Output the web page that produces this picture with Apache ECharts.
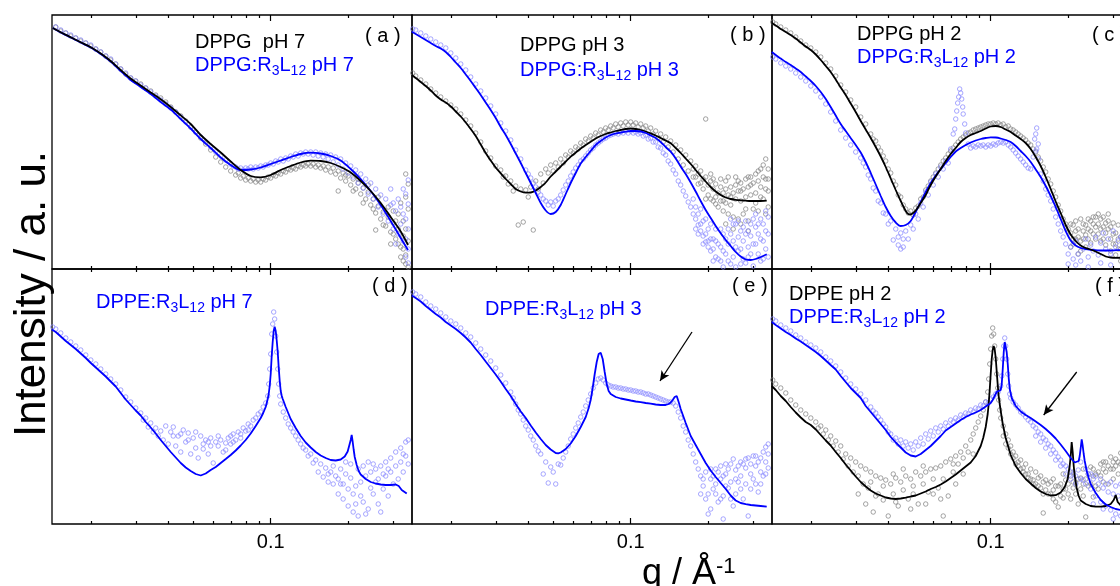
<!DOCTYPE html>
<html><head><meta charset="utf-8">
<script src="https://cdn.jsdelivr.net/npm/echarts@6/dist/echarts.min.js"></script>
<style>html,body{margin:0;padding:0;background:#fff}#c{width:1120px;height:586px}</style>
</head><body><div id="c"></div>
<script>
// ---------- axis / tick data ----------
const qMin = 0.01409, qMax = 0.3547;
const minorTicks = [0.02,0.03,0.04,0.05,0.06,0.07,0.08,0.09,0.2,0.3];
const majorTicks = [0.1];
const tickLabels = ['0.1'];
const panelTags = ['( a )','( b )','( c )','( d )','( e )','( f )'];
const blackLegend = ['DPPG  pH 7','DPPG pH 3','DPPG pH 2','','','DPPE pH 2'];
const blueLegend = [['DPPG:R','3','L','12',' pH 7'],['DPPG:R','3','L','12',' pH 3'],['DPPG:R','3','L','12',' pH 2'],
                    ['DPPE:R','3','L','12',' pH 7'],['DPPE:R','3','L','12',' pH 3'],['DPPE:R','3','L','12',' pH 2']];
const arrowE = [[0.1732,192],[0.130,143]];
const arrowF = [[0.2161,152],[0.1608,109]];

// ---------- panel (a) DPPG pH 7 ----------
const aBlackFit = [[0.0142,241],[0.01524,236.7],[0.01667,231.8],[0.01823,226.7],[0.01995,221.8],[0.02181,215.5],[0.02384,208],[0.02608,199],[0.02852,190.5],[0.0312,183.5],[0.03413,176.6],[0.03733,169.7],[0.04083,162],[0.04466,153.6],[0.04883,145],[0.05341,134],[0.05842,125],[0.0639,116.5],[0.06987,107.5],[0.07642,99],[0.0836,93],[0.09143,91.7],[0.1,94],[0.1094,99],[0.1196,103],[0.1308,106.5],[0.1431,108.3],[0.1565,108],[0.1712,106],[0.1872,102],[0.2048,96.5],[0.224,88],[0.245,78],[0.268,66],[0.2931,52],[0.3206,37.5],[0.3423,24]];
const aBlueFit = [[0.0142,241],[0.01524,236.5],[0.01667,231.5],[0.01823,226.5],[0.01995,221.5],[0.02181,215],[0.02384,207.5],[0.02608,198],[0.02852,189],[0.0312,182],[0.03413,175],[0.03733,167],[0.04083,159.5],[0.04466,150],[0.04883,140.5],[0.05341,130],[0.05842,121],[0.0639,111.5],[0.06987,104],[0.07642,99],[0.0836,99.5],[0.09143,101.5],[0.1,105],[0.1094,108.5],[0.1196,112],[0.1308,115],[0.1431,116.3],[0.1565,115.5],[0.1712,113],[0.1872,108.5],[0.2048,100],[0.224,90],[0.245,78],[0.268,64],[0.2931,48],[0.3206,31],[0.3423,19]];
const aBlackPts = [[0.01457,242],[0.01524,238],[0.01594,236],[0.01667,233],[0.01743,231],[0.01823,228],[0.01907,226],[0.01995,223],[0.02086,220],[0.02181,217],[0.02281,213],[0.02384,209],[0.02494,205],[0.02608,200],[0.02727,195],[0.02852,191],[0.02983,188],[0.0312,185],[0.03263,181],[0.03413,178],[0.03569,174],[0.03733,171],[0.03904,167],[0.04083,162],[0.0427,157],[0.04466,153],[0.0467,148],[0.04883,142],[0.05107,137],[0.05341,131],[0.05586,125],[0.05842,119],[0.0611,112],[0.0639,107],[0.06683,102],[0.06987,98],[0.07308,94],[0.07473,96],[0.07642,91],[0.07815,93],[0.07992,89],[0.08173,91],[0.0836,88],[0.08549,90],[0.08743,87],[0.08941,89],[0.09143,87],[0.09351,90],[0.09562,89],[0.09779,92],[0.1,91],[0.1023,94],[0.1046,93],[0.1069,96],[0.1094,95],[0.1119,98],[0.1144,97],[0.117,100],[0.1196,99],[0.1223,101],[0.1251,100],[0.1279,103],[0.1308,102],[0.1338,104],[0.1368,103],[0.1399,105],[0.1431,103],[0.1463,105],[0.1497,102],[0.1531,104],[0.1565,101],[0.1601,103],[0.1637,99],[0.1674,102],[0.1712,97],[0.1751,101],[0.179,95],[0.1831,98],[0.1872,91],[0.1914,96],[0.1958,88],[0.2002,93],[0.2048,84],[0.2094,90],[0.2142,80],[0.219,86],[0.224,75],[0.2291,81],[0.2343,70],[0.2396,77],[0.245,64],[0.2506,70],[0.2562,56],[0.2621,63],[0.268,50],[0.2741,57],[0.2803,43],[0.2866,52],[0.2931,37],[0.2998,46],[0.3065,30],[0.3135,40],[0.3206,22],[0.3279,33],[0.3353,14],[0.3429,28],
[0.1831,78],[0.1958,94],[0.2094,78],[0.219,90],[0.2291,66],[0.2396,84],[0.2506,60],[0.2621,72],[0.2741,44],[0.2866,62],[0.2998,35],[0.3135,55],[0.3279,48],[0.3429,60],[0.3353,72],[0.3429,85],[0.3279,20],[0.3353,5],[0.3206,12],[0.3429,2],[0.3135,25],[0.3065,48],[0.2998,58],[0.2931,25],[0.3206,66],[0.3353,40],[0.3279,8],[0.3353,95],[0.2562,39]];
const aBluePts = [[0.01457,242],[0.01524,239],[0.01594,236],[0.01667,234],[0.01743,231],[0.01823,229],[0.01907,226],[0.01995,224],[0.02086,220],[0.02181,217],[0.02281,213],[0.02384,210],[0.02494,205],[0.02608,200],[0.02727,196],[0.02852,191],[0.02983,188],[0.0312,184],[0.03263,181],[0.03413,177],[0.03569,173],[0.03733,169],[0.03904,165],[0.04083,161],[0.0427,157],[0.04466,152],[0.0467,147],[0.04883,142],[0.05107,137],[0.05341,132],[0.05586,127],[0.05842,122],[0.0611,117],[0.0639,113],[0.06683,109],[0.06987,105],[0.07146,103],[0.07308,102],[0.07473,100],[0.07642,101],[0.07815,99],[0.07992,101],[0.08173,100],[0.0836,102],[0.08549,100],[0.08743,102],[0.08941,101],[0.09143,103],[0.09351,102],[0.09562,104],[0.09779,104],[0.1,106],[0.1023,105],[0.1046,108],[0.1069,107],[0.1094,110],[0.1119,108],[0.1144,111],[0.117,110],[0.1196,113],[0.1223,112],[0.1251,115],[0.1279,113],[0.1308,116],[0.1338,115],[0.1368,117],[0.1399,115],[0.1431,117],[0.1463,114],[0.1497,117],[0.1531,113],[0.1565,116],[0.1601,112],[0.1637,115],[0.1674,110],[0.1712,114],[0.1751,107],[0.179,112],[0.1831,104],[0.1872,110],[0.1914,100],[0.1958,106],[0.2002,96],[0.2048,103],[0.2094,92],[0.2142,99],[0.219,86],[0.224,95],[0.2291,81],[0.2343,90],[0.2396,75],[0.245,86],[0.2506,70],[0.2562,80],[0.2621,62],[0.268,74],[0.2741,55],[0.2803,70],[0.2866,48],[0.2931,64],[0.2998,40],[0.3065,58],[0.3135,35],[0.3206,62],[0.3279,28],[0.3353,75],[0.3429,89],
[0.3353,50],[0.3429,40],[0.3279,80],[0.3206,45],[0.3135,70],[0.3065,25],[0.2998,66],[0.3429,65],[0.3353,30],[0.2931,80],[0.3279,55],[0.3429,20],[0.3353,12],[0.3429,6]];

// ---------- panel (b) DPPG pH 3 ----------
const bBlackFit = [[0.01406,194],[0.01457,191],[0.01524,187],[0.01594,183],[0.01667,178.5],[0.01743,173.5],[0.01823,169.5],[0.01907,166.5],[0.01995,162.5],[0.02086,157.5],[0.02181,152.5],[0.02281,146.5],[0.02384,140],[0.02494,133],[0.02608,124.5],[0.02727,116],[0.02852,108.5],[0.02983,101.5],[0.0312,95.7],[0.03263,90],[0.03413,85],[0.03569,80],[0.03733,77.5],[0.03904,76.3],[0.04083,76.5],[0.0427,78.5],[0.04466,82],[0.0467,86.5],[0.04883,92.5],[0.05107,97.5],[0.05341,102.5],[0.05586,107.5],[0.05842,112.3],[0.0611,116.5],[0.0639,120.5],[0.06683,124],[0.06987,127.3],[0.07308,130.5],[0.07642,133],[0.07992,135],[0.0836,136.5],[0.08743,138],[0.09143,139],[0.09562,140],[0.1,140.5],[0.1046,140],[0.1094,139],[0.1144,137.5],[0.1196,135.7],[0.1251,133.5],[0.1308,131],[0.1368,128.5],[0.1431,125.7],[0.1497,121],[0.1565,116],[0.1637,110.5],[0.1712,105],[0.179,99],[0.1872,93],[0.1958,87.5],[0.2048,82],[0.2142,77.5],[0.224,74],[0.2343,71.5],[0.245,70],[0.2562,69.2],[0.268,68.7],[0.2803,68.3],[0.2931,68],[0.3065,68],[0.3206,68],[0.3383,68.3]];
const bBlueFit = [[0.01406,237.3],[0.01457,235],[0.01524,232],[0.01594,229],[0.01667,226],[0.01743,223],[0.01823,220.5],[0.01907,217],[0.01995,212],[0.02086,206.5],[0.02181,201],[0.02281,194.5],[0.02384,188],[0.02494,181],[0.02608,174],[0.02727,166.5],[0.02852,159],[0.02983,151],[0.0312,142],[0.03263,134],[0.03413,125],[0.03569,115.5],[0.03733,106],[0.03904,96],[0.04083,86],[0.0427,76],[0.04466,66],[0.0467,58.5],[0.04883,55],[0.05107,57],[0.05341,64],[0.05586,75],[0.05842,86],[0.0611,96],[0.0639,105.5],[0.06683,112],[0.06987,118],[0.07308,124],[0.07642,128],[0.07992,131.5],[0.0836,134],[0.08743,135.5],[0.09143,136.5],[0.09562,137.3],[0.1,138],[0.1046,138],[0.1094,137.5],[0.1144,136],[0.1196,133.5],[0.1251,131],[0.1308,127],[0.1368,122],[0.1431,117.3],[0.1497,110.5],[0.1565,102.5],[0.1637,95],[0.1712,86.5],[0.179,77.5],[0.1872,68],[0.1958,59],[0.2048,51],[0.2142,43],[0.224,35.7],[0.2343,29],[0.245,23],[0.2562,17],[0.268,12.5],[0.2803,9.5],[0.2931,9],[0.3065,10],[0.3206,12],[0.3383,14.7]];
const bBlackPts = [[0.01418,196],[0.01457,193],[0.01524,189],[0.01594,185],[0.01667,180],[0.01743,176],[0.01823,172],[0.01907,168],[0.01995,164],[0.02086,160],[0.02181,155],[0.02281,149],[0.02384,143],[0.02494,136],[0.02608,127],[0.02727,118],[0.02852,111],[0.02983,103],[0.0312,99],[0.03191,92],[0.03263,93],[0.03337,85],[0.03413,88],[0.0349,78],[0.03569,83],[0.0365,44],[0.03733,80],[0.03818,47],[0.03904,79],[0.03993,72],[0.04083,82],[0.04176,39],[0.0427,88],[0.04367,80],[0.04466,95],[0.04567,86],[0.0467,100],[0.04776,96],[0.04883,104],[0.04994,98],[0.05107,106],[0.05223,102],[0.05341,110],[0.05462,106],[0.05586,114],[0.05713,112],[0.05842,118],[0.05975,116],[0.0611,122],[0.06249,120],[0.0639,126],[0.06535,124],[0.06683,130],[0.06834,128],[0.06987,133],[0.07146,131],[0.07308,136],[0.07473,134],[0.07642,139],[0.07815,137],[0.07992,141],[0.08173,139],[0.0836,143],[0.08549,141],[0.08743,145],[0.08941,142],[0.09143,146],[0.09351,143],[0.09562,147],[0.09779,144],[0.1,147],[0.1023,144],[0.1046,146],[0.1069,142],[0.1094,145],[0.1119,141],[0.1144,143],[0.117,138],[0.1196,141],[0.1223,135],[0.1251,138],[0.1279,131],[0.1308,135],[0.1338,127],[0.1368,132],[0.1399,122],[0.1431,128],[0.1463,117],[0.1497,124],[0.1531,110],[0.1565,119],[0.1601,104],[0.1637,114],[0.1674,98],[0.1712,108],[0.1751,92],[0.179,103],[0.1831,85],[0.1872,98],[0.1914,80],[0.1958,150],[0.1958,92],[0.2002,74],[0.2048,88],[0.2094,68],[0.2142,85],[0.219,62],[0.224,82],[0.2291,58],[0.2343,80],[0.2396,55],[0.245,82],[0.2506,52],[0.2562,84],[0.2621,50],[0.268,86],[0.2741,55],[0.2803,90],[0.2866,48],[0.2931,92],[0.2998,60],[0.3065,95],[0.3135,58],[0.3206,100],[0.3279,70],[0.3353,110],[0.3429,78],
[0.2048,70],[0.2142,72],[0.224,68],[0.2343,66],[0.245,64],[0.2562,70],[0.268,68],[0.2803,72],[0.2931,74],[0.3065,76],[0.3206,82],[0.3353,90],[0.3429,100],[0.2094,80],[0.219,76],[0.2291,76],[0.2396,74],[0.2506,76],[0.2621,78],[0.2741,80],[0.2866,82],[0.2998,86],[0.3135,88],[0.3279,92],[0.3429,62],[0.3353,55],[0.2343,45],[0.2506,40],[0.268,45],[0.2866,38],[0.1958,70],
[0.1751,100],[0.179,92],[0.1831,95],[0.1872,86],[0.1914,90],[0.2002,84],[0.2048,95],[0.2142,65],[0.224,90],[0.2343,88],[0.245,72],[0.2562,92],[0.268,78],[0.2803,60],[0.2931,84],[0.3065,66],[0.3206,72],[0.3353,80],[0.3429,90],[0.2396,92],[0.2621,88],[0.2866,92],[0.3135,98],[0.3279,104],[0.2094,90],[0.2291,68]];
const bBluePts = [[0.01418,240],[0.01457,239],[0.01524,236],[0.01594,233],[0.01667,230],[0.01743,227],[0.01823,224],[0.01907,221],[0.01995,216],[0.02086,211],[0.02181,205],[0.02281,199],[0.02384,192],[0.02494,185],[0.02608,178],[0.02727,171],[0.02852,163],[0.02983,155],[0.0312,146],[0.03263,138],[0.03413,129],[0.03569,119],[0.03733,110],[0.03904,99],[0.03993,95],[0.04083,91],[0.04176,86],[0.0427,82],[0.04367,77],[0.04466,74],[0.04567,70],[0.0467,68],[0.04776,64],[0.04883,67],[0.04994,63],[0.05107,68],[0.05223,70],[0.05341,74],[0.05462,79],[0.05586,84],[0.05713,88],[0.05842,93],[0.05975,97],[0.0611,101],[0.06249,104],[0.0639,108],[0.06535,110],[0.06683,113],[0.06834,116],[0.06987,119],[0.07146,121],[0.07308,124],[0.07473,126],[0.07642,128],[0.07815,130],[0.07992,131],[0.08173,133],[0.0836,134],[0.08549,135],[0.08743,136],[0.08941,135],[0.09143,137],[0.09351,136],[0.09562,138],[0.09779,136],[0.1,138],[0.1023,136],[0.1046,137],[0.1069,135],[0.1094,136],[0.1119,133],[0.1144,134],[0.117,130],[0.1196,131],[0.1223,127],[0.1251,127],[0.1279,122],[0.1308,121],[0.1338,116],[0.1368,114],[0.1399,108],[0.1431,105],[0.1463,99],[0.1497,95],[0.1531,88],[0.1565,84],[0.1601,78],[0.1637,73],[0.1674,67],[0.1712,62],[0.1751,55],[0.179,50],[0.1831,44],[0.1872,38],[0.1914,33],[0.1958,27],[0.2002,22],[0.2048,18],[0.2094,30],[0.2142,12],[0.219,25],[0.224,8],[0.2291,35],[0.2343,15],[0.2396,40],[0.245,5],[0.2506,28],[0.2562,45],[0.2621,18],[0.268,38],[0.2741,10],[0.2803,48],[0.2866,22],[0.2931,33],[0.2998,3],[0.3065,42],[0.3135,15],[0.3206,50],[0.3279,28],[0.3353,38],[0.3429,12],
[0.2094,8],[0.2142,40],[0.224,22],[0.2291,2],[0.2396,25],[0.245,50],[0.2506,12],[0.2621,32],[0.268,20],[0.2741,42],[0.2803,6],[0.2866,38],[0.2931,15],[0.2998,50],[0.3065,25],[0.3135,35],[0.3206,8],[0.3279,45],[0.3353,20],[0.3429,52],[0.2562,2],[0.2002,40],[0.2048,45],[0.1958,50],[0.1914,48],[0.1872,60],[0.1831,55],[0.1751,70],[0.179,62],
[0.2048,30],[0.2094,20],[0.2142,28],[0.219,10],[0.224,40],[0.2291,18],[0.2343,30],[0.2396,8],[0.245,35],[0.2506,45],[0.2562,22],[0.2621,48],[0.268,5],[0.2741,28],[0.2803,35],[0.2866,12],[0.2931,45],[0.2998,25],[0.3065,55],[0.3135,45],[0.3206,30],[0.3279,10],[0.3353,58],[0.3429,35],[0.2002,28],[0.1958,35],[0.1914,25],[0.1872,45],[0.1831,35],[0.179,40]];

// ---------- panel (c) DPPG pH 2 ----------
const cBlackFit = [[0.01406,246],[0.01457,243.5],[0.01524,240],[0.01594,237],[0.01667,234],[0.01743,230.5],[0.01823,226.5],[0.01907,222.5],[0.01995,219],[0.02086,214.5],[0.02181,209],[0.02281,203],[0.02384,197],[0.02494,189.5],[0.02608,181.5],[0.02727,174],[0.02852,165.5],[0.02983,157],[0.0312,148],[0.03263,139.5],[0.03413,131],[0.03569,122],[0.03733,112.5],[0.03904,102],[0.04083,90.5],[0.0427,79],[0.04466,68],[0.0467,58],[0.04776,55],[0.04883,54.5],[0.05107,58.5],[0.05341,66],[0.05586,74],[0.05842,84],[0.0611,92.5],[0.0639,100],[0.06683,108],[0.06987,115],[0.07308,121],[0.07642,127],[0.07992,131],[0.0836,134],[0.08743,136],[0.09143,138],[0.09562,140.5],[0.1,142.5],[0.1046,143],[0.1094,142],[0.1144,139.5],[0.1196,137],[0.1251,133.5],[0.1308,130],[0.1368,126],[0.1431,120],[0.1497,112],[0.1565,103],[0.1637,92],[0.1712,80],[0.179,67.5],[0.1872,56],[0.1958,44],[0.2048,34.5],[0.2142,28],[0.224,23.5],[0.2343,21],[0.245,19.5],[0.2562,17.5],[0.268,15],[0.2803,12.5],[0.2931,11.5],[0.3065,11.2],[0.3206,11.3],[0.3353,12],[0.3506,13]];
const cBlueFit = [[0.01406,217],[0.01457,214],[0.01524,210.5],[0.01594,207],[0.01667,204],[0.01743,200.5],[0.01823,197],[0.01907,192.5],[0.01995,188],[0.02086,183],[0.02181,177],[0.02281,170],[0.02384,162],[0.02494,153.5],[0.02608,145],[0.02727,138],[0.02852,131],[0.02983,124],[0.0312,116.5],[0.03263,107],[0.03413,96],[0.03569,84.5],[0.03733,73],[0.03904,62],[0.04083,53],[0.0427,46.5],[0.04466,43],[0.0467,44],[0.04883,48],[0.05107,57],[0.05341,67],[0.05586,77],[0.05842,86],[0.0611,93.5],[0.0639,100],[0.06683,106],[0.06987,112],[0.07308,117.5],[0.07642,121],[0.07992,124],[0.0836,126.5],[0.08743,128.5],[0.09143,130],[0.09562,131],[0.1,131.7],[0.1046,131.5],[0.1094,130.5],[0.1144,129],[0.1196,127],[0.1251,123],[0.1308,118],[0.1368,113],[0.1431,107],[0.1497,99.5],[0.1565,92],[0.1637,83],[0.1712,73],[0.179,62],[0.1872,50],[0.1958,38],[0.2048,28.5],[0.2142,23.5],[0.224,21],[0.2343,19.8],[0.245,19.2],[0.268,18.5],[0.2931,18.5],[0.3206,19],[0.3506,19.5]];
const cBlackPts = [[0.01418,247],[0.01457,245],[0.01524,242],[0.01594,239],[0.01667,236],[0.01743,232],[0.01823,228],[0.01907,224],[0.01995,221],[0.02086,217],[0.02181,212],[0.02281,206],[0.02384,200],[0.02494,193],[0.02608,184],[0.02727,177],[0.02852,169],[0.02983,162],[0.0312,152],[0.03263,145],[0.03413,135],[0.0349,130],[0.03569,128],[0.0365,122],[0.03733,118],[0.03818,113],[0.03904,108],[0.03993,100],[0.04083,96],[0.04176,88],[0.0427,84],[0.04367,74],[0.04466,72],[0.04567,64],[0.0467,60],[0.04776,56],[0.04883,58],[0.04994,54],[0.05107,61],[0.05223,63],[0.05341,70],[0.05462,72],[0.05586,79],[0.05713,83],[0.05842,88],[0.05975,92],[0.0611,96],[0.06249,100],[0.0639,104],[0.06535,108],[0.06683,111],[0.06834,115],[0.06987,118],[0.07146,121],[0.07308,124],[0.07473,127],[0.07642,130],[0.07815,132],[0.07992,134],[0.08173,136],[0.0836,137],[0.08549,139],[0.08743,140],[0.08941,141],[0.09143,142],[0.09351,143],[0.09562,144],[0.09779,145],[0.1,145],[0.1023,146],[0.1046,145],[0.1069,146],[0.1094,144],[0.1119,145],[0.1144,142],[0.117,143],[0.1196,140],[0.1223,139],[0.1251,137],[0.1279,135],[0.1308,133],[0.1338,131],[0.1368,129],[0.1399,126],[0.1431,124],[0.1463,120],[0.1497,117],[0.1531,112],[0.1565,108],[0.1601,102],[0.1637,97],[0.1674,90],[0.1712,85],[0.1751,78],[0.179,72],[0.1831,64],[0.1872,58],[0.1914,50],[0.1958,45],[0.2002,40],[0.2048,36],[0.2094,44],[0.2142,30],[0.219,40],[0.224,28],[0.2291,45],[0.2343,34],[0.2396,50],[0.245,38],[0.2506,52],[0.2562,42],[0.2621,55],[0.268,40],[0.2741,52],[0.2803,36],[0.2866,48],[0.2931,30],[0.2998,46],[0.3065,25],[0.3135,44],[0.3206,20],[0.3279,40],[0.3353,28],[0.3429,46],
[0.2048,22],[0.2142,48],[0.224,18],[0.2343,22],[0.245,26],[0.2562,30],[0.268,28],[0.2803,24],[0.2931,18],[0.3065,14],[0.3206,8],[0.3353,10],[0.2291,30],[0.2396,40],[0.2506,45],[0.2621,35],[0.2741,42],[0.2866,55],[0.2998,35],[0.3135,30],[0.3279,52],[0.3429,30],[0.219,15],[0.2094,30],
[0.2048,45],[0.2142,38],[0.224,50],[0.2343,44],[0.245,48],[0.2562,52],[0.268,50],[0.2803,46],[0.2931,42],[0.3065,36],[0.3206,32],[0.3353,38],[0.3429,40],[0.2094,25],[0.219,32],[0.2291,38],[0.2396,30],[0.2506,35],[0.2621,45],[0.2741,30],[0.2866,40],[0.2998,25],[0.3135,20],[0.3279,30]];
const cBluePts = [[0.01418,212],[0.01457,210],[0.01524,206],[0.01594,203],[0.01667,200],[0.01743,196],[0.01823,192],[0.01907,188],[0.01995,183],[0.02086,178],[0.02181,172],[0.02281,165],[0.02384,157],[0.02494,148],[0.02608,139],[0.02727,131],[0.02852,124],[0.02983,117],[0.0312,111],[0.03191,106],[0.03263,102],[0.03337,94],[0.03413,90],[0.0349,81],[0.03569,78],[0.0365,68],[0.03733,66],[0.03818,56],[0.03904,55],[0.03993,45],[0.04083,48],[0.04176,29],[0.0427,40],[0.04367,24],[0.04466,36],[0.04567,22],[0.0467,38],[0.04776,30],[0.04883,44],[0.04994,40],[0.05107,55],[0.05223,50],[0.05341,66],[0.05462,62],[0.05586,77],[0.05713,74],[0.05842,87],[0.05975,84],[0.0611,95],[0.06249,92],[0.0639,102],[0.06535,100],[0.06683,108],[0.06834,106],[0.06987,120],[0.07146,135],[0.07308,150],[0.07437,166],[0.07573,180],[0.07711,170],[0.07815,155],[0.07992,136],[0.08173,125],[0.0836,121],[0.08549,123],[0.08743,122],[0.08941,124],[0.09143,123],[0.09351,124],[0.09562,122],[0.09779,124],[0.1,123],[0.1023,125],[0.1046,124],[0.1069,126],[0.1094,127],[0.1119,126],[0.1144,127],[0.117,124],[0.1196,122],[0.1223,119],[0.1251,116],[0.1279,113],[0.1308,110],[0.1338,107],[0.1368,104],[0.1399,101],[0.1431,100],[0.1463,112],[0.1497,135],[0.151,141],[0.1531,125],[0.1565,95],[0.1601,88],[0.1637,80],[0.1674,74],[0.1712,68],[0.1751,60],[0.179,52],[0.1831,45],[0.1872,38],[0.1914,32],[0.1958,25],[0.2002,15],[0.2048,22],[0.2094,10],[0.2142,28],[0.219,15],[0.224,8],[0.2291,20],[0.2343,30],[0.2396,12],[0.245,24],[0.2506,18],[0.2562,32],[0.2621,14],[0.268,26],[0.2741,36],[0.2803,20],[0.2866,30],[0.2931,15],[0.2998,38],[0.3065,22],[0.3135,28],[0.3206,32],[0.3279,18],[0.3353,40],[0.3429,25],
[0.07244,140],[0.07374,158],[0.07504,172],[0.07642,176],[0.07781,162],[0.07921,145],[0.1483,130],[0.151,120],[0.1537,110],[0.1497,118],[0.04567,30],[0.04466,20],[0.04367,32],[0.2002,5],[0.2142,4],[0.2396,2],[0.268,6],[0.2931,4]];

// ---------- panel (d) DPPE:R3L12 pH 7 ----------
const dBlueFit = [[0.01406,194.5],[0.01457,192],[0.01524,187.5],[0.01594,183],[0.01667,179],[0.01743,175],[0.01823,170.5],[0.01907,166],[0.01995,161],[0.02086,156.5],[0.02181,152],[0.02281,147.5],[0.02384,142.5],[0.02494,137.5],[0.02608,131],[0.02727,124.5],[0.02852,119],[0.02983,113.5],[0.0312,108.5],[0.03263,102],[0.03413,96.5],[0.03569,90.5],[0.03733,84],[0.03904,78],[0.04083,72],[0.0427,66.5],[0.04466,61],[0.0467,56.5],[0.04883,53],[0.05107,50],[0.05341,48.5],[0.05586,50.5],[0.05842,54],[0.0611,57],[0.0639,61],[0.06683,65],[0.06987,69],[0.07308,73.5],[0.07642,78.5],[0.07992,84],[0.0836,90.5],[0.08743,98],[0.09143,106],[0.09351,111],[0.09562,117],[0.09735,125],[0.09822,130],[0.09911,138],[0.1,150],[0.1009,168],[0.1018,182],[0.1027,193],[0.1036,197.3],[0.1046,193],[0.1055,184],[0.1065,172],[0.1074,157],[0.1084,143],[0.1094,133],[0.1104,128],[0.1114,125],[0.1144,117],[0.1196,105],[0.1251,96],[0.1308,88],[0.1368,81.5],[0.1431,76.5],[0.1497,72],[0.1565,68.5],[0.1637,66],[0.1712,64],[0.179,63.5],[0.1872,64.5],[0.1941,67.5],[0.1993,72.5],[0.2029,80],[0.2048,84],[0.2066,89],[0.2085,82],[0.2104,74],[0.2123,67],[0.2161,59],[0.22,53],[0.224,49.5],[0.2343,45],[0.245,42],[0.2562,40.5],[0.268,39.5],[0.2803,39],[0.2931,39],[0.3065,39.5],[0.3149,38],[0.3235,34],[0.3383,30.5]];
const dBluePts = [[0.01418,197],[0.01457,195],[0.01524,191],[0.01594,186],[0.01667,182],[0.01743,178],[0.01823,174],[0.01907,169],[0.01995,164],[0.02086,160],[0.02181,155],[0.02281,150],[0.02384,145],[0.02494,140],[0.02608,134],[0.02727,127],[0.02852,122],[0.02983,116],[0.0312,111],[0.03191,104],[0.03263,106],[0.03337,97],[0.03413,101],[0.0349,92],[0.03569,96],[0.0365,88],[0.03733,93],[0.03818,84],[0.03904,98],[0.03993,80],[0.04083,92],[0.04176,97],[0.0427,78],[0.04367,88],[0.04466,72],[0.04567,94],[0.0467,82],[0.04776,91],[0.04883,70],[0.04994,86],[0.05107,76],[0.05223,66],[0.05341,88],[0.05462,80],[0.05586,84],[0.05713,70],[0.05842,86],[0.05975,61],[0.0611,82],[0.06249,78],[0.0639,84],[0.06535,72],[0.06683,81],[0.06834,86],[0.06987,80],[0.07146,90],[0.07308,84],[0.07473,92],[0.07642,90],[0.07815,96],[0.07992,93],[0.08173,100],[0.0836,98],[0.08549,104],[0.08743,106],[0.08941,110],[0.09143,112],[0.09351,117],[0.09562,121],[0.09735,128],[0.09822,140],[0.09911,155],[0.1,170],[0.1009,190],[0.1018,200],[0.1027,212],[0.1036,205],[0.1046,188],[0.1055,172],[0.1065,155],[0.1074,140],[0.1084,128],[0.1094,120],[0.1119,112],[0.1144,106],[0.117,100],[0.1196,96],[0.1223,92],[0.1251,88],[0.1279,84],[0.1308,80],[0.1338,76],[0.1368,74],[0.1399,68],[0.1431,70],[0.1463,61],[0.1497,64],[0.1531,52],[0.1565,60],[0.1601,47],[0.1637,56],[0.1674,42],[0.1712,52],[0.1751,40],[0.179,48],[0.1831,30],[0.1872,55],[0.1914,25],[0.1958,50],[0.2002,18],[0.2048,46],[0.2094,12],[0.2142,38],[0.219,8],[0.224,42],[0.2291,22],[0.2343,48],[0.2396,15],[0.245,52],[0.2506,30],[0.2562,55],[0.2621,20],[0.268,58],[0.2741,35],[0.2803,62],[0.2866,28],[0.2931,66],[0.2998,40],[0.3065,72],[0.3135,45],[0.3206,76],[0.3279,52],[0.3353,82],[0.3429,60],
[0.1831,45],[0.1914,40],[0.2002,35],[0.2094,30],[0.2142,20],[0.224,28],[0.2343,10],[0.245,36],[0.2562,42],[0.2621,45],[0.268,12],[0.2803,48],[0.2931,52],[0.3065,58],[0.3206,62],[0.3353,68],[0.3429,84],[0.3279,70],[0.2866,55],[0.2741,50],[0.2506,60],[0.2396,62],[0.2291,58],[0.219,55],[0.2048,60],[0.1958,62],[0.1872,40],[0.1751,58],[0.1674,50],
[0.04176,88],[0.04466,90],[0.04776,84],[0.05107,92],[0.05462,75],[0.05842,78],[0.06249,88],[0.06683,74],[0.07146,82],[0.07642,86],[0.08173,94],[0.05713,82],[0.06987,88]];

// ---------- panel (e) DPPE:R3L12 pH 3 ----------
const eBlueFit = [[0.01406,228.5],[0.01457,226],[0.01524,222.5],[0.01594,218],[0.01667,214],[0.01743,210],[0.01823,206.5],[0.01907,202],[0.01995,198.5],[0.02086,195],[0.02181,191],[0.02281,186.5],[0.02384,181.5],[0.02494,175],[0.02608,169],[0.02727,162.5],[0.02852,156],[0.02983,149.5],[0.0312,142.5],[0.03263,135],[0.03413,128],[0.03569,120],[0.03733,112.5],[0.03904,106],[0.04083,98.5],[0.0427,91.5],[0.04466,85],[0.0467,79],[0.04883,74.5],[0.05107,71],[0.05223,70.7],[0.05341,71.5],[0.05586,75],[0.05842,80.5],[0.0611,88],[0.0639,97],[0.06683,107],[0.06862,116],[0.06987,124],[0.07113,136],[0.07244,150],[0.07374,162],[0.07504,170],[0.07642,171.3],[0.07781,165],[0.07921,152],[0.08064,140],[0.08208,133],[0.0836,130],[0.08743,127],[0.09143,125.5],[0.09562,124.5],[0.1,123.5],[0.1046,122.5],[0.1094,121.8],[0.1144,121],[0.1196,120.3],[0.1251,119.5],[0.1308,119],[0.1368,119],[0.1405,120],[0.1431,121.5],[0.1457,124],[0.1483,127],[0.151,128],[0.1537,122],[0.1565,115],[0.1637,101],[0.1712,88],[0.179,79],[0.1872,70],[0.1958,61],[0.2048,53.5],[0.2142,47],[0.224,41],[0.2343,35],[0.245,28.5],[0.2562,23.5],[0.268,21],[0.2803,19.8],[0.2931,19],[0.3065,18.5],[0.3206,18],[0.3383,17.3]];
const eBluePts = [[0.01418,232],[0.01457,230],[0.01524,227],[0.01594,222],[0.01667,218],[0.01743,215],[0.01823,211],[0.01907,207],[0.01995,203],[0.02086,200],[0.02181,196],[0.02281,191],[0.02384,187],[0.02494,181],[0.02608,175],[0.02727,169],[0.02852,163],[0.02983,156],[0.0312,149],[0.03263,141],[0.03413,132],[0.0349,126],[0.03569,120],[0.0365,114],[0.03733,110],[0.03818,104],[0.03904,98],[0.03993,94],[0.04083,88],[0.04176,84],[0.0427,78],[0.04367,73],[0.04466,70],[0.04567,50],[0.0467,62],[0.04776,41],[0.04883,57],[0.04994,52],[0.05107,40],[0.05223,60],[0.05341,59],[0.05462,66],[0.05586,72],[0.05713,78],[0.05842,85],[0.05975,90],[0.0611,96],[0.06249,101],[0.0639,107],[0.06535,112],[0.06683,118],[0.06834,124],[0.06987,130],[0.07146,136],[0.07308,141],[0.07473,145],[0.07642,146],[0.07815,144],[0.07992,141],[0.08173,139],[0.0836,138],[0.08549,137],[0.08743,137],[0.08941,136],[0.09143,136],[0.09351,135],[0.09562,135],[0.09779,134],[0.1,134],[0.1023,133],[0.1046,133],[0.1069,132],[0.1094,132],[0.1119,131],[0.1144,130],[0.117,130],[0.1196,129],[0.1223,128],[0.1251,127],[0.1279,126],[0.1308,125],[0.1338,124],[0.1368,123],[0.1399,122],[0.1431,122],[0.1463,121],[0.1497,118],[0.1531,112],[0.1565,106],[0.1601,98],[0.1637,92],[0.1674,84],[0.1712,78],[0.1751,70],[0.179,62],[0.1831,55],[0.1872,48],[0.1914,38],[0.1958,52],[0.2002,30],[0.2048,45],[0.2094,35],[0.2142,55],[0.219,22],[0.224,58],[0.2291,28],[0.2343,50],[0.2396,36],[0.245,60],[0.2506,18],[0.2562,54],[0.2621,42],[0.268,62],[0.2741,25],[0.2803,56],[0.2866,8],[0.2931,60],[0.2998,45],[0.3065,58],[0.3135,32],[0.3206,66],[0.3279,48],[0.3353,77],[0.3429,56],
[0.1872,30],[0.1958,25],[0.2048,15],[0.2142,40],[0.224,25],[0.2343,38],[0.245,42],[0.2562,30],[0.268,48],[0.2803,40],[0.2931,50],[0.3065,40],[0.3206,52],[0.3353,62],[0.3429,70],[0.2396,55],[0.2506,65],[0.2621,58],[0.2741,60],[0.2866,66],[0.2998,68],[0.3135,62],[0.3279,72],[0.2094,48],[0.219,52],[0.2291,48],[0.1914,45],[0.2002,10],[0.2291,5],
[0.2048,55],[0.2142,30],[0.224,45],[0.2343,60],[0.245,25],[0.2562,45],[0.268,35],[0.2803,65],[0.2931,35],[0.3065,68],[0.3206,40],[0.3353,50],[0.3429,80]];

// ---------- panel (f) DPPE pH 2 ----------
const fBlackFit = [[0.01406,138],[0.01457,134],[0.01524,128],[0.01594,123],[0.01667,117],[0.01743,111.5],[0.01823,106.5],[0.01907,102],[0.01995,99],[0.02086,94.5],[0.02181,89],[0.02281,83.5],[0.02384,78.5],[0.02494,72],[0.02608,66],[0.02727,59.5],[0.02852,53.5],[0.02983,47.5],[0.0312,42],[0.03263,37.5],[0.03413,33.5],[0.03569,30.5],[0.03733,28.5],[0.03904,26.5],[0.04083,25.5],[0.0427,25],[0.04466,25.5],[0.0467,26.3],[0.04883,27.5],[0.05107,28.5],[0.05341,30.5],[0.05586,32.5],[0.05842,35],[0.0611,37],[0.0639,39.5],[0.06683,42.5],[0.06987,46],[0.07308,49.5],[0.07642,53.5],[0.07992,57.5],[0.0836,61.5],[0.08743,68],[0.09143,78],[0.09351,86],[0.09562,97],[0.09735,110],[0.09822,120],[0.09911,134],[0.1,150],[0.1009,165],[0.1018,174],[0.1027,178],[0.1036,175],[0.1046,166],[0.1055,153],[0.1065,139],[0.1074,128],[0.1084,120],[0.1094,113],[0.1114,100],[0.1144,86],[0.1196,69],[0.1251,58],[0.1308,51],[0.1368,45],[0.1431,40.5],[0.1497,36],[0.1565,32.5],[0.1637,30],[0.1712,28.5],[0.179,28.8],[0.1872,31.5],[0.1941,37],[0.1993,45],[0.2029,58],[0.2048,68],[0.2066,82],[0.2085,72],[0.2104,58],[0.2123,48],[0.2161,36],[0.22,28],[0.224,23.5],[0.2343,20],[0.245,18],[0.2562,17.3],[0.268,17.3],[0.2803,18],[0.2931,20],[0.3011,24],[0.3065,29],[0.312,22],[0.3206,18.5],[0.3353,16],[0.3506,15]];
const fBlueFit = [[0.01406,202],[0.01457,199],[0.01524,195.5],[0.01594,192],[0.01667,189],[0.01743,185.5],[0.01823,182.5],[0.01907,179],[0.01995,175.5],[0.02086,172],[0.02181,168],[0.02281,163.5],[0.02384,159],[0.02494,154.5],[0.02608,148],[0.02727,142],[0.02852,136],[0.02983,131],[0.0312,126],[0.03263,118],[0.03413,112],[0.03569,106],[0.03733,100],[0.03904,94],[0.04083,87],[0.0427,81.5],[0.04466,76.5],[0.0467,71.5],[0.04883,68.5],[0.05107,67.5],[0.05341,70],[0.05586,74],[0.05842,78],[0.0611,83],[0.0639,88],[0.06683,93.5],[0.06987,97],[0.07308,100.5],[0.07642,104],[0.07992,107],[0.0836,109.5],[0.08743,111.5],[0.09143,114],[0.09562,117.5],[0.1,121],[0.1018,124],[0.1036,128],[0.1055,132],[0.1074,133],[0.1094,134],[0.1104,140],[0.1114,155],[0.1124,172],[0.1134,182],[0.1144,180],[0.1154,172],[0.1165,160],[0.1175,146],[0.1186,135],[0.1207,126],[0.1251,118],[0.1308,112.5],[0.1368,109],[0.1431,106],[0.1497,102.5],[0.1565,99],[0.1637,95],[0.1712,90.5],[0.179,85.5],[0.1872,79.5],[0.1958,73],[0.2048,66],[0.2123,61.5],[0.2161,61],[0.22,63],[0.222,68],[0.224,76],[0.226,84.7],[0.2281,78],[0.2301,70],[0.2322,63],[0.2364,53],[0.2407,46],[0.245,40],[0.2562,31],[0.268,24],[0.2803,19.5],[0.2931,17],[0.3065,15],[0.3206,14],[0.3353,13.5],[0.3506,13]];
const fBlackPts = [[0.01418,144],[0.01457,140],[0.01524,136],[0.01594,131],[0.01667,124],[0.01743,119],[0.01823,114],[0.01907,110],[0.01995,106],[0.02086,102],[0.02133,96],[0.02181,98],[0.0223,90],[0.02281,94],[0.02333,84],[0.02384,88],[0.02438,78],[0.02494,83],[0.0255,72],[0.02608,78],[0.02667,65],[0.02727,70],[0.02789,58],[0.02852,66],[0.02917,52],[0.02983,62],[0.03051,48],[0.0312,58],[0.03191,40],[0.03263,55],[0.03337,36],[0.03413,52],[0.0349,12],[0.03569,48],[0.0365,30],[0.03733,46],[0.03818,24],[0.03904,44],[0.03993,8],[0.04083,40],[0.04176,30],[0.0427,46],[0.04367,18],[0.04466,42],[0.04567,34],[0.0467,48],[0.04776,25],[0.04883,45],[0.04994,38],[0.05107,52],[0.05223,20],[0.05341,48],[0.05462,40],[0.05586,52],[0.05713,32],[0.05842,55],[0.05975,45],[0.0611,56],[0.06249,36],[0.0639,58],[0.06535,8],[0.06683,62],[0.06834,28],[0.06987,65],[0.07146,52],[0.07308,68],[0.07473,60],[0.07642,72],[0.07815,66],[0.07992,78],[0.08173,72],[0.0836,84],[0.08549,90],[0.08743,96],[0.08941,102],[0.09143,108],[0.09351,114],[0.09562,122],[0.09735,132],[0.09822,145],[0.09911,160],[0.1,175],[0.1009,188],[0.1018,196],[0.1027,190],[0.1036,178],[0.1046,165],[0.1055,150],[0.1065,136],[0.1074,124],[0.1084,114],[0.1094,106],[0.1119,98],[0.1144,90],[0.117,84],[0.1196,78],[0.1223,72],[0.1251,68],[0.1279,62],[0.1308,64],[0.1338,56],[0.1368,60],[0.1399,50],[0.1431,55],[0.1463,44],[0.1497,52],[0.1531,38],[0.1565,48],[0.1601,11],[0.1637,44],[0.1674,30],[0.1712,42],[0.1751,34],[0.179,38],[0.1831,17],[0.1872,40],[0.1914,26],[0.1958,44],[0.2002,30],[0.2048,48],[0.2094,36],[0.2142,41],[0.219,20],[0.224,46],[0.2291,28],[0.2343,7],[0.2396,38],[0.245,57],[0.2506,27],[0.2562,50],[0.2621,35],[0.268,60],[0.2741,42],[0.2803,62],[0.2866,40],[0.2931,67],[0.2998,45],[0.3065,65],[0.3135,50],[0.3206,71],[0.3279,55],[0.3353,68],[0.3429,60],
[0.1144,80],[0.1196,70],[0.1251,60],[0.1308,55],[0.1368,50],[0.1431,45],[0.1497,40],[0.1565,36],[0.1637,34],[0.1712,30],[0.179,22],[0.1872,28],[0.1958,35],[0.2048,25],[0.2142,30],[0.224,35],[0.2343,45],[0.245,40],[0.2562,38],[0.268,48],[0.2803,52],[0.2931,55],[0.3065,58],[0.3206,60],[0.3353,56],[0.1601,42],[0.1751,45],[0.1914,50],[0.2094,52],[0.2291,55],[0.2506,48],[0.2741,55],[0.2998,62],[0.3279,64],[0.0427,22],[0.04883,15],[0.05586,20],[0.0639,25],[0.07308,40],[0.03569,28],[0.03263,20],
[0.1119,88],[0.117,76],[0.1223,66],[0.1279,58],[0.1338,52],[0.1399,46],[0.1463,40],[0.1531,46],[0.1601,30],[0.1674,40],[0.1751,25],[0.1831,38],[0.1914,35],[0.2002,40],[0.2094,42],[0.219,45],[0.2291,40],[0.2396,50],[0.2506,55],[0.2621,52],[0.2741,62],[0.2866,58],[0.2998,55],[0.3135,62],[0.3279,66],[0.3429,68],[0.03051,30],[0.03413,42],[0.03818,38],[0.04176,50],[0.04567,55],[0.04994,30],[0.05462,58],[0.05975,30],[0.06535,45],[0.07146,60],[0.07815,50],[0.08549,70]];
const fBluePts = [[0.01418,205],[0.01457,203],[0.01524,199],[0.01594,196],[0.01667,193],[0.01743,189],[0.01823,186],[0.01907,182],[0.01995,179],[0.02086,176],[0.02181,172],[0.02281,167],[0.02384,163],[0.02494,158],[0.02608,152],[0.02727,146],[0.02852,140],[0.02983,135],[0.0312,130],[0.03263,124],[0.03413,117],[0.0349,113],[0.03569,111],[0.0365,107],[0.03733,104],[0.03818,100],[0.03904,97],[0.03993,92],[0.04083,90],[0.04176,84],[0.0427,86],[0.04367,80],[0.04466,84],[0.04567,78],[0.0467,82],[0.04776,76],[0.04883,80],[0.04994,74],[0.05107,82],[0.05223,78],[0.05341,86],[0.05462,80],[0.05586,90],[0.05713,85],[0.05842,93],[0.05975,88],[0.0611,96],[0.06249,92],[0.0639,98],[0.06535,95],[0.06683,101],[0.06834,98],[0.06987,104],[0.07146,102],[0.07308,106],[0.07473,104],[0.07642,109],[0.07815,107],[0.07992,111],[0.08173,110],[0.0836,114],[0.08549,112],[0.08743,116],[0.08941,115],[0.09143,119],[0.09351,118],[0.09562,122],[0.09779,121],[0.1,125],[0.1023,127],[0.1046,130],[0.1069,132],[0.1094,138],[0.1104,148],[0.1114,165],[0.1124,178],[0.1134,186],[0.1144,178],[0.1154,165],[0.1165,150],[0.1175,138],[0.1186,130],[0.1196,126],[0.1223,122],[0.1251,119],[0.1279,116],[0.1308,112],[0.1338,110],[0.1368,107],[0.1399,104],[0.1431,102],[0.1463,98],[0.1497,96],[0.1531,92],[0.1565,90],[0.1601,86],[0.1637,84],[0.1674,80],[0.1712,78],[0.1751,74],[0.179,71],[0.1831,67],[0.1872,64],[0.1914,60],[0.1958,58],[0.2002,55],[0.2048,52],[0.2094,50],[0.2142,48],[0.219,54],[0.224,62],[0.2291,44],[0.2343,40],[0.2396,50],[0.245,35],[0.2506,45],[0.2562,28],[0.2621,40],[0.268,22],[0.2741,36],[0.2803,18],[0.2866,32],[0.2931,14],[0.2998,30],[0.3065,10],[0.3135,28],[0.3206,8],[0.3279,25],[0.3353,12],[0.3429,30],
[0.1497,88],[0.1565,82],[0.1637,76],[0.1712,70],[0.179,64],[0.1872,58],[0.1958,50],[0.2048,45],[0.2142,40],[0.224,45],[0.2343,55],[0.245,50],[0.2562,48],[0.268,45],[0.2803,40],[0.2931,42],[0.3065,38],[0.3206,40],[0.3353,35],[0.3429,45],[0.2506,20],[0.2741,15],[0.2998,5],[0.3279,4]];

// ---------- build chart ----------
const FONT = 'Liberation Sans, Arial, Helvetica, sans-serif';
const BLUE = '#0000ff', BLUEPT = '#8585ff', GRAYPT = '#808080';
const lg = Math.log10;
const toXY = arr => arr.map(p => [lg(p[0]), p[1]]);
const panelLeft = [52, 412, 772], panelWidth = 360;
const rowTop = [15, 269], rowHeight = [254, 255];

const panels = [
  {pts: [[aBlackPts, GRAYPT], [aBluePts, BLUEPT]], fits: [[aBlueFit, BLUE], [aBlackFit, '#000']], smooth: 0.3},
  {pts: [[bBlackPts, GRAYPT], [bBluePts, BLUEPT]], fits: [[bBlackFit, '#000'], [bBlueFit, BLUE]], smooth: 0.3},
  {pts: [[cBlackPts, GRAYPT], [cBluePts, BLUEPT]], fits: [[cBlueFit, BLUE], [cBlackFit, '#000']], smooth: 0.3},
  {pts: [[dBluePts, BLUEPT]], fits: [[dBlueFit, BLUE]], smooth: false},
  {pts: [[eBluePts, BLUEPT]], fits: [[eBlueFit, BLUE]], smooth: false, arrow: arrowE},
  {pts: [[fBlackPts, GRAYPT], [fBluePts, BLUEPT]], fits: [[fBlackFit, '#000'], [fBlueFit, BLUE]], smooth: false, arrow: arrowF}
];

const grids = [], xAxes = [], yAxes = [], series = [], graphics = [];
panels.forEach((p, i) => {
  const row = i < 3 ? 0 : 1, col = i % 3;
  grids.push({left: panelLeft[col], top: rowTop[row], width: panelWidth, height: rowHeight[row],
    show: true, borderColor: '#000', borderWidth: 1.3, backgroundColor: 'transparent', containLabel: false, outerBoundsMode: 'none'});
  const base = {type: 'value', gridIndex: i, min: lg(qMin), max: lg(qMax), splitLine: {show: false},
    axisLine: {show: false}};
  ['bottom', 'top'].forEach(pos => {
    xAxes.push(Object.assign({}, base, {position: pos,
      axisTick: {show: true, inside: true, length: 3, customValues: minorTicks.map(lg), lineStyle: {color: '#000', width: 1.2}},
      axisLabel: {show: false}}));
    xAxes.push(Object.assign({}, base, {position: pos,
      axisTick: {show: true, inside: true, length: 6, customValues: majorTicks.map(lg), lineStyle: {color: '#000', width: 1.2}},
      axisLabel: {show: pos === 'bottom' && row === 1, customValues: majorTicks.map(lg), margin: 8,
        color: '#000', fontSize: 20, fontFamily: FONT,
        formatter: v => { const k = majorTicks.findIndex(t => Math.abs(lg(t) - v) < 1e-6); return k >= 0 ? tickLabels[k] : ''; }}}));
  });
  yAxes.push({type: 'value', gridIndex: i, min: 0, max: rowHeight[row], show: false});
  const xi = i * 4;
  p.pts.forEach(([arr, color]) => series.push({type: 'scatter', xAxisIndex: xi, yAxisIndex: i, data: toXY(arr),
    symbol: 'circle', symbolSize: 4.5, z: 2, silent: true,
    itemStyle: {color: 'rgba(255,255,255,0)', borderColor: color, borderWidth: 0.9}}));
  p.fits.forEach(([arr, color], k) => {
    const s = {type: 'line', xAxisIndex: xi, yAxisIndex: i, data: toXY(arr), showSymbol: false, z: 3 + k,
      smooth: p.smooth, lineStyle: {color: color, width: 1.8}, silent: true};
    if (p.arrow && k === 0) {
      s.markLine = {silent: true, symbol: ['none', 'arrow'], symbolSize: [7, 10], label: {show: false},
        lineStyle: {color: '#000', width: 1.3, type: 'solid'},
        data: [[{coord: [lg(p.arrow[0][0]), p.arrow[0][1]]}, {coord: [lg(p.arrow[1][0]), p.arrow[1][1]]}]]};
    }
    series.push(s);
  });
});

// text annotations
const richSub = {
  m: {fontSize: 20, lineHeight: 20, verticalAlign: 'top', fontFamily: FONT},
  s: {fontSize: 14, lineHeight: 14, padding: [9, 0, 0, 0], verticalAlign: 'top', fontFamily: FONT}
};
const tagPos = [[365, 36], [730, 35], [1092, 35], [372, 286], [732, 286], [1095, 286]];
const blackPos = [[195, 32], [520, 35], [857, 24], null, null, [789, 284]];
const bluePos = [[195, 55], [520, 60], [857, 47], [96, 292], [485, 299], [789, 307]];
panelTags.forEach((t, i) => graphics.push({type: 'text', x: tagPos[i][0], y: tagPos[i][1], silent: true,
  style: {text: t, fill: '#000', font: '20px ' + FONT, fontSize: 20, fontFamily: FONT, verticalAlign: 'middle', textVerticalAlign: 'middle'}}));
blackLegend.forEach((t, i) => { if (t) graphics.push({type: 'text', x: blackPos[i][0], y: blackPos[i][1], silent: true,
  style: {text: '{m|' + t + '}', rich: richSub, fill: '#000'}}); });
blueLegend.forEach((parts, i) => graphics.push({type: 'text', x: bluePos[i][0], y: bluePos[i][1], silent: true,
  style: {text: parts.map((s, k) => (k % 2 ? '{s|' : '{m|') + s + '}').join(''), rich: richSub, fill: BLUE}}));
graphics.push({type: 'text', x: 33, y: 294, rotation: Math.PI / 2, silent: true,
  style: {text: 'Intensity / a. u.', fill: '#000', fontSize: 44, fontFamily: FONT, align: 'center', verticalAlign: 'middle',
    textAlign: 'center', textVerticalAlign: 'middle'}});
graphics.push({type: 'text', x: 642, y: 556, silent: true,
  style: {text: '{m|q / Å}{s|-1}', fill: '#000', rich: {
    m: {fontSize: 36, lineHeight: 36, verticalAlign: 'bottom', fontFamily: FONT},
    s: {fontSize: 22, lineHeight: 22, verticalAlign: 'top', fontFamily: FONT}}}});

const chart = echarts.init(document.getElementById('c'), null, {renderer: 'canvas'});
chart.setOption({animation: false, backgroundColor: '#fff', grid: grids, xAxis: xAxes, yAxis: yAxes, series: series, graphic: graphics});
</script></body></html>
